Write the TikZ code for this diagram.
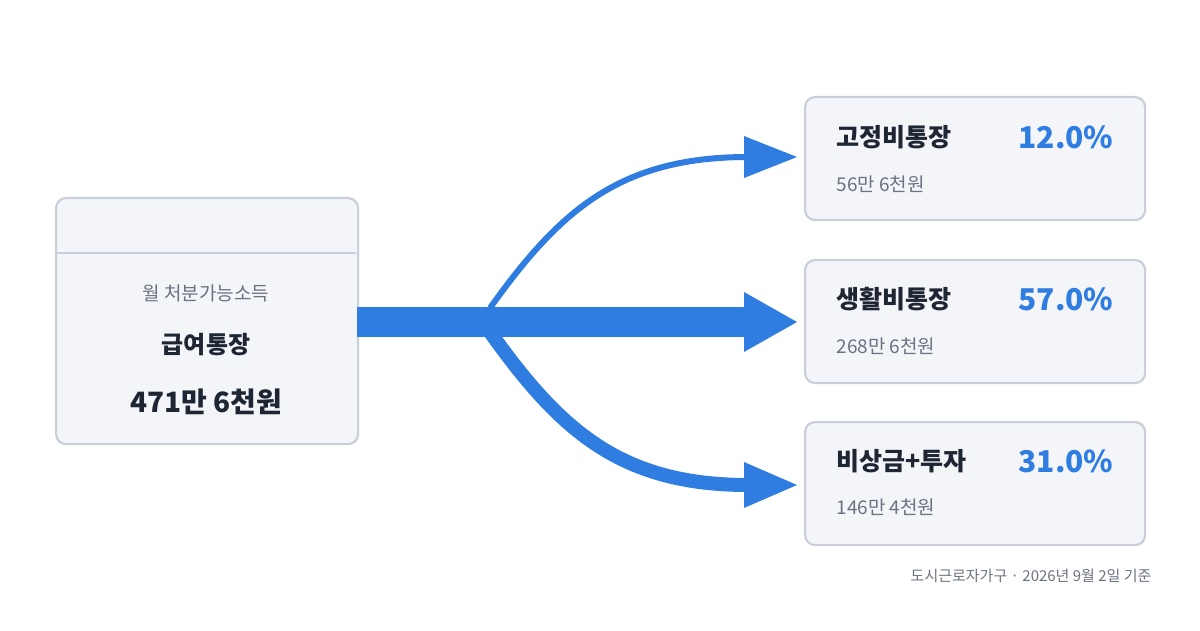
\documentclass[tikz,border=0pt]{standalone}
\usepackage{fontspec}
\setmainfont{Noto Sans CJK KR}
\definecolor{bl}{HTML}{2F7DE1}
\definecolor{bx}{HTML}{F3F5F9}
\definecolor{bd}{HTML}{C9CFDA}
\definecolor{dk}{HTML}{1F2633}
\definecolor{gr}{HTML}{6B7280}
\begin{document}
\begin{tikzpicture}[x=1pt,y=-1pt,
  card/.style={draw=bd,line width=2.2pt,fill=bx,rounded corners=10pt,minimum width=340pt,minimum height=123pt,anchor=north west},
  ttl/.style={text=dk,font=\fontsize{25}{28}\selectfont\bfseries,anchor=west},
  pct/.style={text=bl,font=\fontsize{30}{32}\selectfont\bfseries,anchor=east},
  sub/.style={text=gr,font=\fontsize{19}{22}\selectfont,anchor=west}]
\useasboundingbox (0,0) rectangle (1200,631);
% left card
\node[card,minimum width=302pt,minimum height=246pt] (src) at (55,197) {};
\draw[bd,line width=2.2pt] (56,253) -- (356,253);
\node[text=gr,font=\fontsize{19}{22}\selectfont] (l1) at (206,293) {월 처분가능소득};
\node[text=dk,font=\fontsize{24}{28}\selectfont\bfseries] (l2) at (206,345) {급여통장};
\node[text=dk,font=\fontsize{28}{32}\selectfont\bfseries] (l3) at (206,402) {471만 6천원};
% right cards
\node[card] (c1) at (804,96) {};
\node[card] (c2) at (804,259) {};
\node[card] (c3) at (804,421) {};
\node[ttl] (t1) at (833,137) {고정비통장};
\node[pct] (p1) at (1117,137) {12.0\%};
\node[sub] (s1) at (833,184) {56만 6천원};
\node[ttl] (t2) at (833,299) {생활비통장};
\node[pct] (p2) at (1117,299) {57.0\%};
\node[sub] (s2) at (833,346) {268만 6천원};
\node[ttl] (t3) at (833,461) {비상금+투자};
\node[pct] (p3) at (1117,461) {31.0\%};
\node[sub] (s3) at (833,507) {146만 4천원};
\node[text=gr,font=\fontsize{15}{18}\selectfont,anchor=east] (ft) at (1155,576) {도시근로자가구 · 2026년 9월 2일 기준};
% flows
\coordinate (o) at (357,322);
\coordinate (e1) at (748,157);
\coordinate (e2) at (748,322);
\coordinate (e3) at (748,485);
\draw[bl,line width=6pt] (490,308) .. controls (560,210) and (620,157) .. (e1);
\draw[bl,line width=14pt] (490,332) .. controls (560,430) and (620,485) .. (e3);
\draw[bl,line width=30pt] (o) -- (e2);
\fill[bl] (e1) ++(-4,-21) -- ++(53,21) -- ++(-53,21) -- cycle;
\fill[bl] (e2) ++(-4,-30) -- ++(53,30) -- ++(-53,30) -- cycle;
\fill[bl] (e3) ++(-4,-23) -- ++(53,23) -- ++(-53,23) -- cycle;
\end{tikzpicture}
\end{document}
